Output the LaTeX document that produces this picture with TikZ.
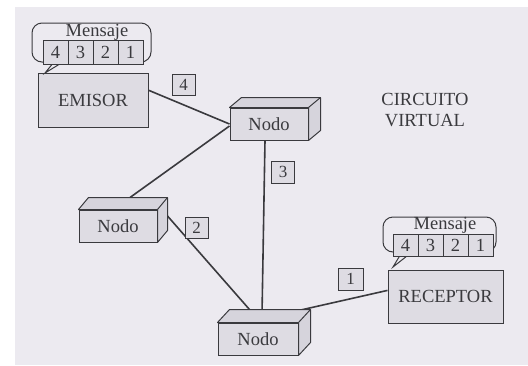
\documentclass[tikz,border=0pt]{standalone}
\usepackage{fontspec}
\setmainfont{Liberation Serif}
\newfontfamily\labelfont{Liberation Serif}
\definecolor{paper}{HTML}{ECEAF0}
\definecolor{boxfill}{HTML}{DEDCE3}
\definecolor{sidefill}{HTML}{D6D4DC}
\definecolor{ink}{HTML}{3A3A3E}
\tikzset{
  every node/.style={text=ink, font=\labelfont\fontsize{18.5}{21}\selectfont},
  outline/.style={draw=ink, line width=1pt},
  station/.style={outline, fill=boxfill, minimum width=110pt, minimum height=54pt, inner sep=0pt},
  nodebox/.style={outline, fill=boxfill, minimum width=78pt, minimum height=32pt, inner sep=0pt},
  face/.style={outline, fill=sidefill, line join=round},
  cell/.style={outline, fill=boxfill, minimum width=25pt, minimum height=24pt, inner sep=0pt},
  tag/.style={outline, fill=boxfill, minimum width=23pt, minimum height=21pt, inner sep=0pt, font=\labelfont\fontsize{17}{19}\selectfont},
  bubble/.style={outline, fill=paper},
  link/.style={draw=ink, line width=1.6pt},
}
% top and right faces of a box-shaped network node
\newcommand\boxfaces[3]{%
  \filldraw[face] (#1.north west) -- ([shift={(#2,#3)}]#1.north west)
    -- ([shift={(#2,#3)}]#1.north east) -- ([shift={(#2,#3)}]#1.south east)
    -- (#1.south east) -- (#1.north east) -- cycle;
  \draw[outline] (#1.north east) -- ([shift={(#2,#3)}]#1.north east);}
\begin{document}
\begin{tikzpicture}[x=1pt, y=-1pt]
  % page
  \fill[white] (0,0) rectangle (528,365);
  \fill[paper] (15,7) rectangle (528,365);
  \useasboundingbox (0,0) rectangle (528,365);

  % end stations
  \node[station] (emisor) at (93,100) {EMISOR};
  \node[station, minimum width=115pt, minimum height=53pt] (receptor) at (445.5,296.5) {RECEPTOR};

  % switching nodes
  \node[nodebox] (n1) at (269,124) {Nodo};
  \node[nodebox] (n2) at (118,226) {Nodo};
  \node[nodebox, minimum width=80pt] (n3) at (258,339) {Nodo};

  % links of the virtual circuit
  \draw[link] (emisor.10) -- (n1.west);
  \draw[link] ([shift={(0,2)}]n1.west) -- ([shift={(12,-12)}]n2.north);
  \draw[link] ([shift={(10,-10)}]n2.east) -- ([shift={(-5,-9)}]n3.north);
  \draw[link] ([shift={(-4,0)}]n1.south) -- ([shift={(4,-8)}]n3.north);
  \draw[link] (receptor.174) -- ([shift={(14,-6)}]n3.north);

  \boxfaces{n1}{12}{-10}
  \boxfaces{n2}{10}{-12}
  \boxfaces{n3}{12}{-13}

  % packet numbers on the links
  \node[tag] (t4) at (183.5,85) {4};
  \node[tag, minimum height=22pt] (t3) at (283,172) {3};
  \node[tag] (t2) at (196.5,228) {2};
  \node[tag, minimum width=25pt, minimum height=22pt] (t1) at (350.5,279) {1};

  % message held by the sender
  \draw[bubble] (63,62) [rounded corners=10pt] -- (151,62) -- (151,23) -- (32,23) -- (32,62) [sharp corners] -- (54,62) -- (45,73) -- cycle;
  \node (m1) at (97,32) {Mensaje};
  \node[cell] (a4) at (55.5,52) {4};
  \node[cell] (a3) at (80.5,52) {3};
  \node[cell] (a2) at (105.5,52) {2};
  \node[cell] (a1) at (130.5,52) {1};

  % message delivered to the receiver
  \draw[bubble] (412,252) [rounded corners=10pt] -- (496,252) -- (496,217) -- (383,217) -- (383,252) [sharp corners] -- (402,252) -- (393,267) -- cycle;
  \node (m2) at (445,225) {Mensaje};
  \node[cell, minimum height=22pt] (b4) at (405.5,245) {4};
  \node[cell, minimum height=22pt] (b3) at (430.5,245) {3};
  \node[cell, minimum height=22pt] (b2) at (455.5,245) {2};
  \node[cell, minimum height=22pt] (b1) at (480.5,245) {1};

  \node[align=center, inner sep=0pt] (cv) at (425,110) {CIRCUITO\\VIRTUAL};
\end{tikzpicture}
\end{document}
